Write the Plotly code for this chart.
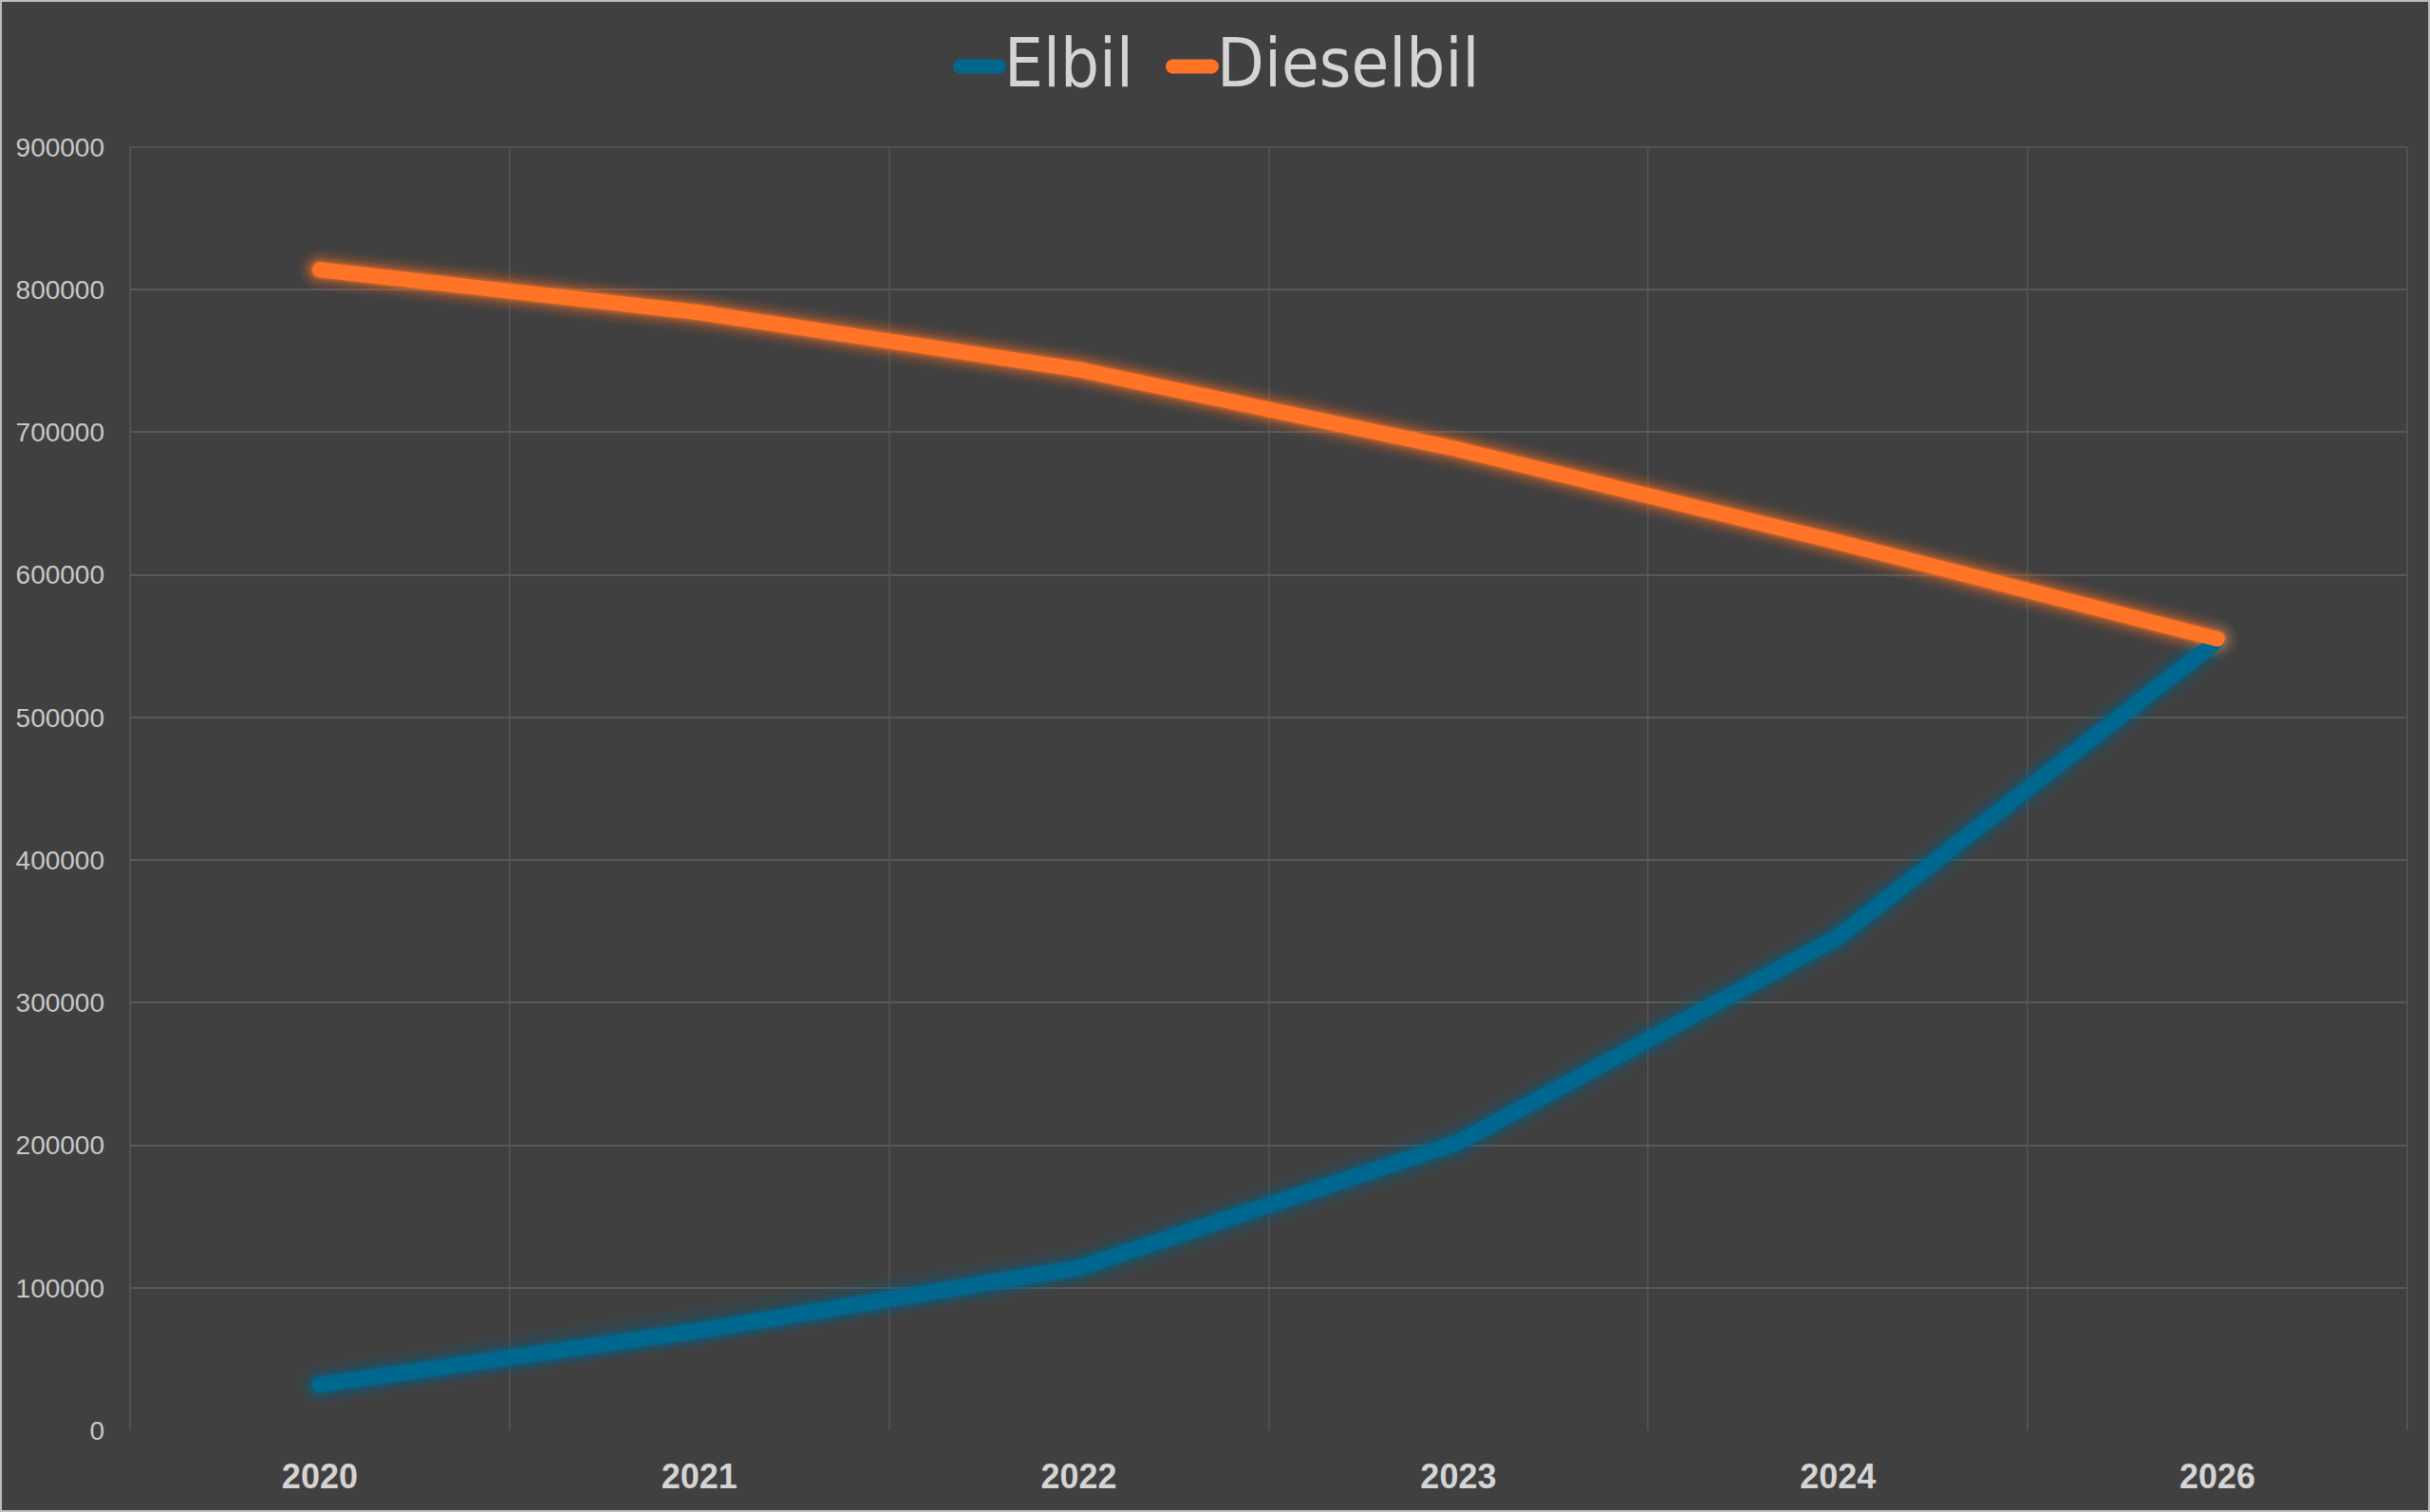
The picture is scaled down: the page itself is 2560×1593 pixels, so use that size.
import plotly.graph_objects as go

years = ["2020", "2021", "2022", "2023", "2024", "2026"]
elbil = [32000, 70000, 114000, 202000, 346000, 554000]
dieselbil = [814000, 784000, 744000, 688000, 623000, 555000]
y_ticks = [0, 100000, 200000, 300000, 400000, 500000, 600000, 700000, 800000, 900000]
series_names = ["Elbil", "Dieselbil"]

BLUE = "#00678f"
ORANGE = "#ff7426"
BG = "#404040"
HGRID = "#595959"
VGRID = "#505050"
TXT = "#d4d4d4"

W, H = 2560, 1593
ML, MR, MT, MB = 137, 24, 155, 86
pw = W - ML - MR
ph = H - MT - MB

def px_x(p):
    return (p - ML) / pw

def px_y(p):
    return 1 + (MT - p) / ph

fig = go.Figure()

series = [(series_names[0], elbil, BLUE), (series_names[1], dieselbil, ORANGE)]
# glow layers
for name, vals, col in series:
    for w, op in [(44, 0.05), (38, 0.07), (32, 0.1), (27, 0.14), (22, 0.2), (19, 0.3)]:
        fig.add_trace(go.Scatter(x=years, y=vals, mode="lines+markers", showlegend=False,
                                 hoverinfo="skip", opacity=op,
                                 line=dict(color=col, width=w),
                                 marker=dict(color=col, size=w, line=dict(width=0))))
for name, vals, col in series:
    fig.add_trace(go.Scatter(x=years, y=vals, mode="lines+markers", name=name,
                             showlegend=False,
                             line=dict(color=col, width=16),
                             marker=dict(color=col, size=16, line=dict(width=0))))

# outer paper border
fig.add_shape(type="rect", xref="paper", yref="paper",
              x0=px_x(1), x1=px_x(W - 1), y0=px_y(H - 1), y1=px_y(1),
              line=dict(color="#bdbdbd", width=2), layer="above")

# plot frame lines (top, left, right)
fig.add_shape(type="line", xref="paper", yref="paper", x0=0, x1=1, y0=1, y1=1,
              line=dict(color=HGRID, width=1.5), layer="below")
fig.add_shape(type="line", xref="paper", yref="paper", x0=0, x1=0, y0=0, y1=1,
              line=dict(color=HGRID, width=1.5), layer="below")
fig.add_shape(type="line", xref="paper", yref="paper", x0=1, x1=1, y0=0, y1=1,
              line=dict(color=HGRID, width=1.5), layer="below")

# custom legend (symbols with rounded ends + text)
leg_items = [(series_names[0], BLUE, 1004), (series_names[1], ORANGE, 1228)]
sym_len, sym_th, sym_y = 56, 15, 70
for name, col, x_left in leg_items:
    x0, x1 = x_left + sym_th / 2, x_left + sym_len - sym_th / 2
    fig.add_shape(type="line", xref="paper", yref="paper",
                  x0=px_x(x0), x1=px_x(x1), y0=px_y(sym_y), y1=px_y(sym_y),
                  line=dict(color=col, width=sym_th))
    for cx in (x0, x1):
        fig.add_shape(type="circle", xref="paper", yref="paper",
                      xsizemode="pixel", ysizemode="pixel",
                      xanchor=px_x(cx), yanchor=px_y(sym_y),
                      x0=-sym_th / 2, x1=sym_th / 2, y0=-sym_th / 2, y1=sym_th / 2,
                      fillcolor=col, line=dict(width=0))
    fig.add_annotation(xref="paper", yref="paper", x=px_x(x_left + sym_len - 4), y=px_y(66),
                       xanchor="left", yanchor="middle", showarrow=False, text=name,
                       font=dict(family="DejaVu Sans Condensed, Liberation Sans Narrow, sans-serif",
                                 size=72, color=TXT))

fig.update_layout(
    width=W, height=H,
    paper_bgcolor=BG, plot_bgcolor=BG,
    margin=dict(l=ML, r=MR, t=MT, b=MB),
    showlegend=False,
    xaxis=dict(type="category", range=[-0.5, 5.5], tickson="boundaries",
               showgrid=True, gridcolor=VGRID, gridwidth=1.5,
               ticks="", showline=False, zeroline=False,
               tickfont=dict(family="Liberation Sans Narrow, Liberation Sans, sans-serif",
                             size=36, color=TXT, weight="bold"),
               ticklabelstandoff=24),
    yaxis=dict(range=[0, 900000], tickvals=y_ticks, ticktext=[str(v) for v in y_ticks],
               showgrid=True, gridcolor=HGRID, gridwidth=1.5, zeroline=False,
               showline=False, ticks="",
               tickfont=dict(family="Liberation Sans, Arial, sans-serif", size=28, color="#c8c8c8"),
               ticklabelstandoff=26),
)

fig.write_html("out.html", config={"displayModeBar": False},
               post_script="document.body.style.margin='0';document.body.style.overflow='hidden';")
